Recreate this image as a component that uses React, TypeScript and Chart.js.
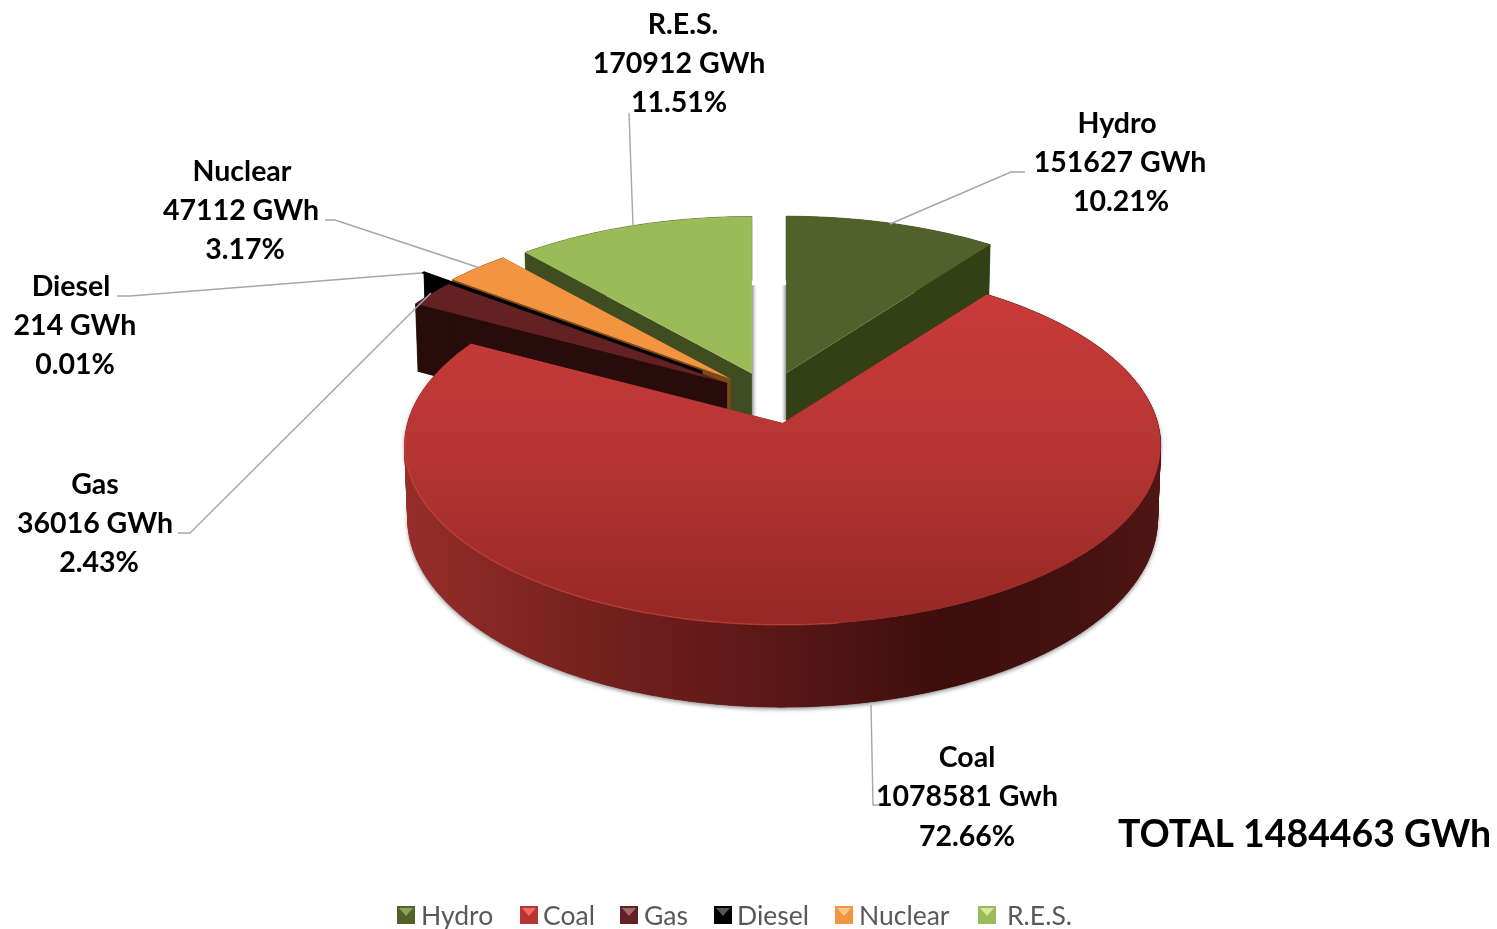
import React, { useEffect, useRef } from "react";
import { Chart, registerables } from "chart.js";

Chart.register(...registerables);

// ---- data ----
const categories = ["Hydro", "Coal", "Gas", "Diesel", "Nuclear", "R.E.S."];
const gwh = [151627, 1078581, 36016, 214, 47112, 170912];
const energyLabels = ["151627 GWh", "1078581 Gwh", "36016 GWh", "214 GWh", "47112 GWh", "170912 GWh"];
const percentLabels = ["10.21%", "72.66%", "2.43%", "0.01%", "3.17%", "11.51%"];
const totalLabel = "TOTAL 1484463 GWh";

// ---- styles ----
const topColors = ["#50622a", "#b73634", "#632123", "#000000", "#f39440", "#9bbb59"];
const wallColors = ["#334016", "#7a2320", "#280c0b", "#000000", "#7a4a1a", "#3f4d20"];
const legendLight = ["#8aa35a", "#f06a68", "#a06a6a", "#555555", "#fbc98a", "#d4e6a6"];
const sliceOffsets = [51, 58.7, 51, 85, 54, 51];
const sliceBorders = [0, 0, 0, 2.5, 0, 0];
const drawOrder = [0, 5, 4, 3, 2, 1];

// ---- layout ----
const W = 1497;
const H = 929;
const Y_RATIO = 0.471; // vertical squash of the tilted disc
const PERSPECTIVE = 0.125;
const DEPTH = 72;
const FONT = "Lato, Carlito, sans-serif";
const LABEL_SIZE = 28.5;
const labelPos = [
  { name: [1117, 124], energy: [1120, 163], pct: [1121, 202] },
  { name: [967, 758], energy: [967, 797], pct: [967, 837] },
  { name: [95, 485], energy: [95, 524], pct: [99, 563] },
  { name: [71, 287], energy: [75, 326], pct: [75, 365] },
  { name: [242, 172], energy: [241, 211], pct: [245, 250] },
  { name: [683, 25], energy: [679, 64], pct: [679, 103] },
];
const leaders = [
  [[1025, 172], [1011, 172], [890, 224]],
  [[871, 705], [873, 805], [880, 805]],
  [[178, 533], [190, 533], [431, 293]],
  [[117, 296], [130, 296], [421, 273]],
  [[325, 220], [335, 220], [480, 268]],
  [[629, 113], [633, 226]],
];
const legendBoxX = [397, 520, 620, 714, 835, 978];
const legendTextX = [421, 543, 644, 737, 859, 1007];

const pie3d = {
  id: "pie3d",
  beforeDatasetDraw(chart: any) {
    const ctx: CanvasRenderingContext2D = chart.ctx;
    const arcs = chart.getDatasetMeta(0).data;

    const frame = (arc: any) => {
      const p = arc.getProps(["x", "y", "startAngle", "endAngle", "outerRadius"]);
      const off = arc.options.offset || 0;
      const mid = (p.startAngle + p.endAngle) / 2;
      const A = p.outerRadius;
      const B = A * Y_RATIO;
      const tip = { x: p.x + off * Math.cos(mid), y: p.y + off * Math.sin(mid) * Y_RATIO };
      const proj = (a: number, f: number, z: number) => {
        const v = Math.sin(a) * f;
        const u = Math.cos(a) * f;
        const s = 1 / (1 - PERSPECTIVE * v);
        return [tip.x + A * u * s * (z ? 0.992 : 1), tip.y + B * v * s + z * DEPTH * s];
      };
      return { p, tip, proj };
    };
    const sample = (start: number, end: number) => {
      const n = Math.max(1, Math.ceil((end - start) / 0.01));
      const out: number[] = [];
      for (let i = 0; i <= n; i++) out.push(start + ((end - start) * i) / n);
      return out;
    };
    const poly = (pts: number[][]) => {
      ctx.beginPath();
      pts.forEach((q, i) => (i ? ctx.lineTo(q[0], q[1]) : ctx.moveTo(q[0], q[1])));
      ctx.closePath();
    };

    ctx.save();

    // soft shadows on the white gap behind the two back slices
    const hydroTip = frame(arcs[0]).tip;
    const resTip = frame(arcs[5]).tip;
    const shade = (x0: number, x1: number) => {
      const g = ctx.createLinearGradient(x0, 0, x1, 0);
      g.addColorStop(0, "rgba(110,110,110,0.75)");
      g.addColorStop(1, "rgba(255,255,255,0)");
      ctx.fillStyle = g;
      ctx.fillRect(Math.min(x0, x1), hydroTip.y - 88, Math.abs(x1 - x0), 135);
    };
    shade(hydroTip.x, hydroTip.x - 6);
    shade(resTip.x, resTip.x + 6);

    drawOrder.forEach((i) => {
      const arc = arcs[i];
      const { p, tip, proj } = frame(arc);
      const angles = sample(p.startAngle, p.endAngle);
      const top = angles.map((a) => proj(a, 1, 0));
      const bottomF = angles.map((a) => proj(a, 1, 1));
      const isCoal = i === 1;

      // outer rim: a soft shadow first, then the swept wall, one quad per step
      let rimFill: any = wallColors[i];
      if (isCoal) {
        const g = ctx.createLinearGradient(tip.x - 378, 0, tip.x + 378, 0);
        g.addColorStop(0, "#962e2a");
        g.addColorStop(0.2, "#7b2320");
        g.addColorStop(0.45, "#5e1917");
        g.addColorStop(0.72, "#3c0e0c");
        g.addColorStop(0.9, "#451211");
        g.addColorStop(1, "#4f1613");
        rimFill = g;
        poly([...top, ...[...bottomF].reverse()]);
        ctx.fillStyle = g;
        ctx.shadowColor = "rgba(0,0,0,0.45)";
        ctx.shadowBlur = 4;
        ctx.shadowOffsetY = 2;
        ctx.fill();
        ctx.shadowColor = "transparent";
        ctx.shadowBlur = 0;
        ctx.shadowOffsetY = 0;
      }
      ctx.fillStyle = rimFill;
      ctx.strokeStyle = rimFill;
      ctx.lineWidth = 0.6;
      for (let k = 0; k < top.length - 1; k++) {
        poly([top[k], top[k + 1], bottomF[k + 1], bottomF[k]]);
        ctx.fill();
        ctx.stroke();
      }

      // radial walls
      [p.startAngle, p.endAngle].forEach((a) => {
        const bt = proj(a, 0, 1);
        poly([[tip.x, tip.y], proj(a, 1, 0), proj(a, 1, 1), bt]);
        ctx.fillStyle = wallColors[i];
        ctx.fill();
      });

      // top face
      ctx.beginPath();
      ctx.moveTo(tip.x, tip.y);
      top.forEach((q) => ctx.lineTo(q[0], q[1]));
      ctx.closePath();
      if (isCoal) {
        const g = ctx.createLinearGradient(0, tip.y - 133, 0, tip.y + 202);
        g.addColorStop(0, "#ca3b39");
        g.addColorStop(0.45, "#b73634");
        g.addColorStop(1, "#962825");
        ctx.fillStyle = g;
      } else {
        ctx.fillStyle = arc.options.backgroundColor;
      }
      ctx.fill();
      if (arc.options.borderWidth) {
        ctx.strokeStyle = arc.options.backgroundColor;
        ctx.lineWidth = arc.options.borderWidth;
        ctx.stroke();
      }
      if (isCoal) {
        // lit edge along the left front of the disc
        ctx.beginPath();
        top.forEach((q) => {
          if (q[1] < tip.y + 10 || q[0] > tip.x + 60) return;
          ctx.lineTo(q[0], q[1]);
        });
        ctx.strokeStyle = "rgba(214,72,62,0.55)";
        ctx.lineWidth = 1.5;
        ctx.stroke();
      }
    });

    ctx.restore();
    return false; // the slices are painted above, from the arc elements' geometry
  },
  afterDraw(chart: any) {
    const ctx: CanvasRenderingContext2D = chart.ctx;
    ctx.save();

    // leader lines
    ctx.strokeStyle = "#a6a6a6";
    ctx.lineWidth = 1.4;
    leaders.forEach((line) => {
      ctx.beginPath();
      line.forEach((q, i) => (i ? ctx.lineTo(q[0], q[1]) : ctx.moveTo(q[0], q[1])));
      ctx.stroke();
    });

    // data labels
    ctx.fillStyle = "#000000";
    ctx.textAlign = "center";
    ctx.textBaseline = "middle";
    ctx.font = `bold ${LABEL_SIZE}px ${FONT}`;
    categories.forEach((c, i) => {
      const l = labelPos[i];
      ctx.fillText(c, l.name[0], l.name[1]);
      ctx.fillText(energyLabels[i], l.energy[0], l.energy[1]);
      ctx.fillText(percentLabels[i], l.pct[0], l.pct[1]);
    });

    // total
    ctx.textAlign = "left";
    ctx.font = `bold 37.4px ${FONT}`;
    ctx.fillText(totalLabel, 1118, 835);

    // legend
    const size = 18;
    const y = 906;
    categories.forEach((c, i) => {
      const x = legendBoxX[i];
      ctx.fillStyle = topColors[i];
      ctx.fillRect(x, y, size, size);
      ctx.fillStyle = legendLight[i];
      ctx.beginPath();
      ctx.moveTo(x + 2, y + 2);
      ctx.lineTo(x + size - 2, y + 2);
      ctx.lineTo(x + size / 2, y + size / 2 + 1);
      ctx.closePath();
      ctx.fill();
      ctx.fillStyle = "#595959";
      ctx.font = `26.5px ${FONT}`;
      ctx.textBaseline = "middle";
      ctx.fillText(c, legendTextX[i], y + size / 2 + 1);
    });
    ctx.restore();
  },
};

export default function App() {
  const ref = useRef<HTMLCanvasElement>(null);
  useEffect(() => {
    const chart = new Chart(ref.current as HTMLCanvasElement, {
      type: "pie",
      data: {
        labels: categories,
        datasets: [
          {
            data: gwh,
            backgroundColor: topColors,
            borderWidth: sliceBorders,
            offset: sliceOffsets,
          },
        ],
      },
      options: {
        responsive: false,
        animation: false,
        events: [],
        radius: 375,
        rotation: 0,
        layout: { padding: { left: 370, right: 327, top: 0, bottom: 137 } },
        plugins: { legend: { display: false }, tooltip: { enabled: false } },
      },
      plugins: [pie3d],
    } as any);
    return () => chart.destroy();
  }, []);
  return (
    <div style={{ position: "absolute", left: 0, top: 0, width: W, height: H, background: "#fff" }}>
      <canvas ref={ref} width={W} height={H} style={{ display: "block" }} />
    </div>
  );
}
